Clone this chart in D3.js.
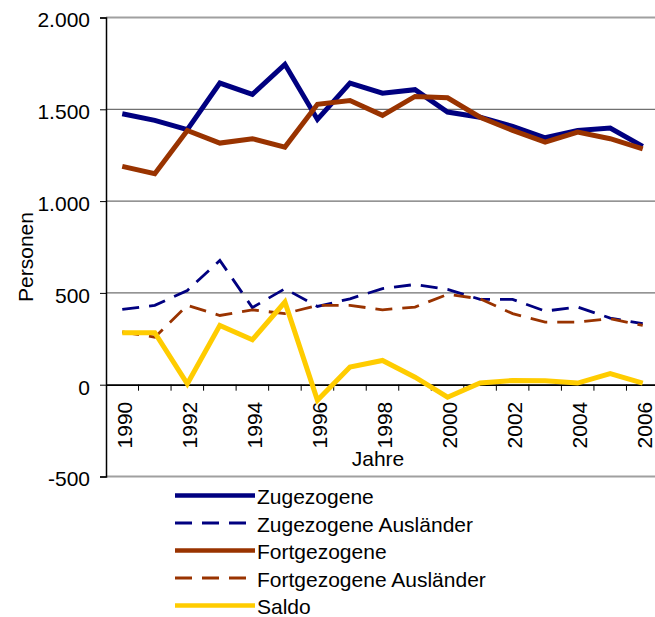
<!DOCTYPE html>
<html>
<head>
<meta charset="utf-8">
<script src="https://cdn.jsdelivr.net/npm/d3@7"></script>
<style>
  html,body{margin:0;padding:0;background:#fff;overflow:hidden}
  svg{display:block;font-family:"Liberation Sans",Arial,sans-serif}
</style>
</head>
<body>
<svg id="chart" width="655" height="617"></svg>
<script>
const years = [1990,1991,1992,1993,1994,1995,1996,1997,1998,1999,2000,2001,2002,2003,2004,2005,2006];
const zugezogene = [1476,1440,1389,1643,1581,1745,1445,1643,1588,1607,1485,1457,1407,1345,1385,1398,1298];
const zugezogeneAusl = [410,432,513,677,420,523,426,468,523,546,519,465,465,401,423,363,332];
const fortgezogene = [1189,1149,1385,1316,1340,1294,1527,1548,1467,1570,1563,1457,1385,1321,1376,1340,1285];
const fortgezogeneAusl = [287,259,432,377,408,387,432,432,408,423,492,468,387,341,341,359,323];
const saldo = [283,283,5,323,245,450,-85,96,132,41,-68,9,23,21,9,60,9];
const yTicks = [-500,0,500,1000,1500,2000];

const series = [
  {name:'Zugezogene', values:zugezogene, color:'#000080', dash:false},
  {name:'Zugezogene Ausländer', values:zugezogeneAusl, color:'#000080', dash:true},
  {name:'Fortgezogene', values:fortgezogene, color:'#993300', dash:false},
  {name:'Fortgezogene Ausländer', values:fortgezogeneAusl, color:'#993300', dash:true},
  {name:'Saldo', values:saldo, color:'#FFCC00', dash:false}
];

const FS = 21;
const svg = d3.select('#chart');
const plot = {left:106, right:659, top:17.5, bottom:476.5};

const x = d3.scaleBand().domain(years).range([plot.left, plot.right]);
const cx = d => x(d) + x.bandwidth()/2;
const y = d3.scaleLinear().domain([-500,2000]).range([plot.bottom, plot.top]);

// gridlines (outer ones are the plot border, lighter and thicker)
svg.append('g').selectAll('line').data(yTicks).join('line')
  .attr('x1',plot.left).attr('x2',655)
  .attr('y1',d=>y(d)).attr('y2',d=>y(d))
  .attr('stroke',d=> (d===2000||d===-500) ? '#a0a0a0' : '#707070')
  .attr('stroke-width',d=> (d===2000||d===-500) ? 2 : 1.2);

// y axis, German thousands separator and plain hyphen for negatives
const yAxis = svg.append('g').attr('transform',`translate(${plot.left},0)`)
  .call(d3.axisLeft(y).tickValues(yTicks).tickSize(6).tickPadding(10)
    .tickFormat(d=>d3.format(',')(d).replace(/,/g,'.').replace('\u2212','-')));
yAxis.select('.domain').attr('stroke','#000').attr('stroke-width',1.5);
yAxis.selectAll('.tick line').attr('stroke','#000');
yAxis.selectAll('text').attr('font-size',FS).attr('fill','#000')
  .attr('dy','0.45em').attr('font-family','"Liberation Sans",Arial,sans-serif');

// x axis at zero
const xAxis = svg.append('g').attr('transform',`translate(0,${y(0)})`)
  .call(d3.axisBottom(x).tickSize(0).tickFormat(d=> d%2===0 ? d : ''));
xAxis.select('.domain').attr('stroke','#000').attr('stroke-width',1.5);
xAxis.selectAll('.tick text')
  .attr('transform','rotate(-90)')
  .attr('text-anchor','end')
  .attr('x',-17).attr('y',2).attr('dy','0.36em')
  .attr('font-size',FS).attr('fill','#000')
  .attr('font-family','"Liberation Sans",Arial,sans-serif');
// tick marks between categories
svg.append('g').selectAll('line').data(years).join('line')
  .attr('x1',d=>x(d) + x.bandwidth())
  .attr('x2',d=>x(d) + x.bandwidth())
  .attr('y1',y(0)).attr('y2',y(0)+6)
  .attr('stroke','#000').attr('stroke-width',1);

// lines
const line = d3.line().x((d,i)=>cx(years[i])).y(d=>y(d));
svg.append('g').selectAll('path').data(series).join('path')
  .attr('d',d=>line(d.values))
  .attr('fill','none')
  .attr('stroke',d=>d.color)
  .attr('stroke-width',d=>d.dash ? 2.8 : 5)
  .attr('stroke-dasharray',d=>d.dash ? '17,10' : null)
  .attr('stroke-linejoin','miter');

// axis titles
svg.append('text').attr('x',378).attr('y',466).attr('text-anchor','middle')
  .attr('font-size',FS).text('Jahre');
svg.append('text').attr('transform','translate(33,257) rotate(-90)').attr('text-anchor','middle')
  .attr('font-size',FS).text('Personen');

// legend
const lg = svg.append('g').selectAll('g').data(series).join('g')
  .attr('transform',(d,i)=>`translate(175,${495.5 + i*27.5})`);
lg.append('line').attr('x1',0).attr('x2',80).attr('y1',0).attr('y2',0)
  .attr('stroke',d=>d.color).attr('stroke-width',d=>d.dash?3:4.5)
  .attr('stroke-dasharray',d=>d.dash ? '17,10' : null);
lg.append('text').attr('x',82).attr('y',8.5)
  .attr('font-size',FS).text(d=>d.name);
</script>
</body>
</html>
